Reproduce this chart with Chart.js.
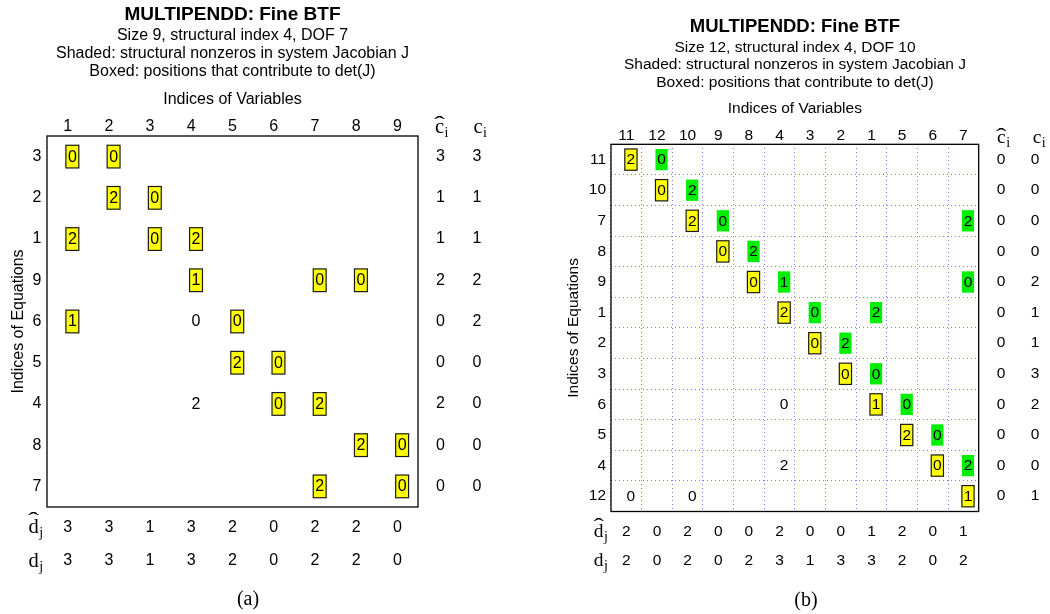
<!DOCTYPE html>
<html lang="en">
<head>
<meta charset="UTF-8">
<title>MULTIPENDD: Fine BTF</title>
<script src="https://cdn.jsdelivr.net/npm/chart.js"></script>
<style>
  body { margin: 0; background: #fff; }
  #wrap { position: relative; width: 1050px; height: 614px; overflow: hidden; }
  .box { position: absolute; top: 0; height: 614px; }
  #boxA { left: 0; width: 525px; }
  #boxB { left: 530px; width: 520px; }
  .cap {
    position: absolute;
    font-family: "Liberation Serif", "Times New Roman", serif;
    font-size: 20px;
    transform: translate(-50%, -50%);
  }
</style>
</head>
<body>
<div id="wrap">
  <div class="box" id="boxA"><canvas id="chartA"></canvas></div>
  <div class="box" id="boxB"><canvas id="chartB"></canvas></div>
  <div class="cap" style="left:248px; top:598px">(a)</div>
  <div class="cap" style="left:806px; top:599px">(b)</div>
</div>

<script>
// ---------- (a) size 9 ----------
const colsA = ['1', '2', '3', '4', '5', '6', '7', '8', '9'];
const rowsA = ['3', '2', '1', '9', '6', '5', '4', '8', '7'];
const chatA = [3, 1, 1, 2, 0, 0, 2, 0, 0];
const cA    = [3, 1, 1, 2, 2, 0, 0, 0, 0];
const dhatA = [3, 3, 1, 3, 2, 0, 2, 2, 0];
const dA    = [3, 3, 1, 3, 2, 0, 2, 2, 0];
// [row position, column position, value]
const boxedA = [
  [1, 1, 0], [1, 2, 0],
  [2, 2, 2], [2, 3, 0],
  [3, 1, 2], [3, 3, 0], [3, 4, 2],
  [4, 4, 1], [4, 7, 0], [4, 8, 0],
  [5, 1, 1], [5, 5, 0],
  [6, 5, 2], [6, 6, 0],
  [7, 6, 0], [7, 7, 2],
  [8, 8, 2], [8, 9, 0],
  [9, 7, 2], [9, 9, 0]
];
const plainA = [[5, 4, 0], [7, 4, 2]];

// ---------- (b) size 12 ----------
const colsB = ['11', '12', '10', '9', '8', '4', '3', '2', '1', '5', '6', '7'];
const rowsB = ['11', '10', '7', '8', '9', '1', '2', '3', '6', '5', '4', '12'];
const chatB = [0, 0, 0, 0, 0, 0, 0, 0, 0, 0, 0, 0];
const cB    = [0, 0, 0, 0, 2, 1, 1, 3, 2, 0, 0, 1];
const dhatB = [2, 0, 2, 0, 0, 2, 0, 0, 1, 2, 0, 1];
const dB    = [2, 0, 2, 0, 2, 3, 1, 3, 3, 2, 0, 2];
const boxedB = [
  [1, 1, 2], [2, 2, 0], [3, 3, 2], [4, 4, 0], [5, 5, 0], [6, 6, 2],
  [7, 7, 0], [8, 8, 0], [9, 9, 1], [10, 10, 2], [11, 11, 0], [12, 12, 1]
];
const shadedB = [
  [1, 2, 0], [2, 3, 2], [3, 4, 0], [3, 12, 2], [4, 5, 2], [5, 6, 1],
  [5, 12, 0], [6, 7, 0], [6, 9, 2], [7, 8, 2], [8, 9, 0], [9, 10, 0],
  [10, 11, 0], [11, 12, 2]
];
const plainB = [[9, 6, 0], [11, 6, 2], [12, 1, 0], [12, 3, 0]];

const SANS = '"Liberation Sans", Arial, sans-serif';
const SERIF = '"Liberation Serif", "Times New Roman", serif';

function pts(list) {
  return list.map(p => ({ x: p[1], y: p[0], v: p[2] }));
}

// letter with optional hat and a subscript, x = centre of the letter
function sym(ctx, base, sub, hat, x, y, size, lift) {
  ctx.font = size + 'px ' + SERIF;
  ctx.textAlign = 'center';
  ctx.textBaseline = 'alphabetic';
  const bw = ctx.measureText(base).width;
  ctx.fillText(base, x, y);
  if (hat) {
    ctx.save();
    ctx.translate(x, y - lift);
    ctx.scale(1.6, 1);
    ctx.fillText('\u02C6', 0, 0);
    ctx.restore();
  }
  ctx.font = Math.round(size * 0.7) + 'px ' + SERIF;
  ctx.textAlign = 'left';
  ctx.fillText(sub, x + bw / 2 + 0.5, y + size * 0.2);
}

const btfPlugin = {
  id: 'btf',
  afterDatasetsDraw(chart, args, o) {
    const ctx = chart.ctx, a = chart.chartArea;
    const xs = chart.scales.x, ys = chart.scales.y;
    ctx.save();

    // cells
    ctx.font = o.fs + 'px ' + SANS;
    ctx.textBaseline = 'middle';
    ctx.textAlign = 'left';
    chart.data.datasets.forEach((ds, i) => {
      const meta = chart.getDatasetMeta(i);
      meta.data.forEach((el, j) => {
        const txt = String(ds.data[j].v);
        const w = ctx.measureText(txt).width;
        const x0 = el.x - o.cellLeft, bw = w + 2 * o.cellPad, bh = o.cellH;
        const y0 = el.y - bh / 2;
        if (ds.cellFill) {
          ctx.fillStyle = ds.cellFill;
          ctx.fillRect(x0, y0, bw, bh);
        }
        if (ds.cellBorder) {
          ctx.strokeStyle = ds.cellBorder;
          ctx.lineWidth = 1.2;
          ctx.strokeRect(x0, y0, bw, bh);
        }
        ctx.fillStyle = '#000';
        ctx.fillText(txt, x0 + o.cellPad, el.y + 0.5);
      });
    });

    // frame
    ctx.strokeStyle = '#000';
    ctx.lineWidth = 1.3;
    ctx.strokeRect(a.left, a.top, a.right - a.left, a.bottom - a.top);

    // side columns and bottom rows
    ctx.fillStyle = '#000';
    ctx.font = o.fs + 'px ' + SANS;
    ctx.textAlign = 'center';
    ctx.textBaseline = 'middle';
    o.chat.forEach((v, i) => ctx.fillText(v, a.right + o.cx1, ys.getPixelForValue(i + 1)));
    o.c.forEach((v, i) => ctx.fillText(v, a.right + o.cx2, ys.getPixelForValue(i + 1)));
    o.dhat.forEach((v, j) => ctx.fillText(v, xs.getPixelForValue(j + 1), a.bottom + o.dy1));
    o.d.forEach((v, j) => ctx.fillText(v, xs.getPixelForValue(j + 1), a.bottom + o.dy2));

    sym(ctx, 'c', 'i', true, a.right + o.hx1, a.top + o.hy, o.ss, 2);
    sym(ctx, 'c', 'i', false, a.right + o.hx2, a.top + o.hy, o.ss, 2);
    sym(ctx, 'd', 'j', true, a.left + o.lx, a.bottom + o.dy1 + 5.5, o.ss, 6);
    sym(ctx, 'd', 'j', false, a.left + o.lx, a.bottom + o.dy2 + 5.5, o.ss, 6);
    ctx.restore();
  }
};

function makeScales(cols, rows, o) {
  return {
    x: {
      type: 'linear', position: 'top', bounds: 'data',
      min: 0.5, max: cols.length + 0.5,
      afterBuildTicks: s => { s.ticks = cols.map((_, i) => ({ value: i + 1 })); },
      afterFit: s => { s.height = o.topH; },
      ticks: {
        autoSkip: false, maxRotation: 0, minRotation: 0, padding: 0, color: '#000',
        font: { family: SANS, size: o.fs, lineHeight: o.tickLH },
        callback: v => cols[Math.round(v) - 1]
      },
      grid: { display: o.grid, offset: true, drawTicks: false, color: '#7b7bff', lineWidth: 1 },
      border: { display: false, dash: [1, 3] },
      title: {
        display: true, text: 'Indices of Variables', color: '#000',
        font: { family: SANS, size: o.fs, lineHeight: 1.2 },
        padding: { top: o.xTitlePad, bottom: 0 }
      }
    },
    y: {
      type: 'linear', position: 'left', reverse: true, bounds: 'data',
      min: 0.5, max: rows.length + 0.5,
      afterBuildTicks: s => { s.ticks = rows.map((_, i) => ({ value: i + 1 })); },
      afterFit: s => { s.width = o.leftW; },
      ticks: {
        autoSkip: false, padding: o.yTickPad, color: '#000',
        font: { family: SANS, size: o.fs },
        callback: v => rows[Math.round(v) - 1]
      },
      grid: { display: o.grid, offset: true, drawTicks: false, color: '#7b7bff', lineWidth: 1 },
      border: { display: false, dash: [1, 3] },
      title: {
        display: true, text: 'Indices of Equations', color: '#000',
        font: { family: SANS, size: o.fs, lineHeight: 1.2 },
        padding: { top: o.yTitlePad, bottom: 0 }
      }
    },
    yr: {
      type: 'linear', position: 'right', display: true,
      ticks: { display: false }, grid: { display: false }, border: { display: false },
      afterFit: s => { s.width = o.rightW; }
    }
  };
}

function makeChart(id, cfg) {
  return new Chart(document.getElementById(id), {
    type: 'scatter',
    data: { datasets: cfg.datasets },
    options: {
      responsive: true,
      maintainAspectRatio: false,
      animation: false,
      events: [],
      layout: { padding: cfg.padding },
      plugins: {
        legend: { display: false },
        tooltip: { enabled: false },
        title: {
          display: true, text: 'MULTIPENDD: Fine BTF', color: '#000',
          font: { family: SANS, size: cfg.titleSize, weight: 'bold', lineHeight: 1.2 },
          padding: { top: cfg.titlePad, bottom: 0 }
        },
        subtitle: {
          display: true, text: cfg.subtitle, color: '#000',
          font: { family: SANS, size: cfg.subSize, lineHeight: cfg.subLH },
          padding: { top: cfg.subPad, bottom: 0 }
        },
        btf: cfg.btf
      },
      scales: makeScales(cfg.cols, cfg.rows, cfg.axes)
    },
    plugins: [btfPlugin]
  });
}

makeChart('chartA', {
  cols: colsA, rows: rowsA,
  datasets: [
    { data: pts(boxedA), cellFill: '#ffff00', cellBorder: '#1a1a1a', pointRadius: 0, xAxisID: 'x', yAxisID: 'y' },
    { data: pts(plainA), cellFill: null, cellBorder: null, pointRadius: 0, xAxisID: 'x', yAxisID: 'y' }
  ],
  padding: { top: 0, left: 0, right: 60, bottom: 107 },
  titleSize: 19, titlePad: 3,
  subtitle: [
    'Size 9, structural index 4, DOF 7',
    'Shaded: structural nonzeros in system Jacobian J',
    'Boxed: positions that contribute to det(J)'
  ],
  subSize: 16, subLH: 1.125, subPad: 1,
  axes: { fs: 16, tickLH: 1.2, topH: 55.2, xTitlePad: 9.6, leftW: 47, yTickPad: 5.5, yTitlePad: 9.1, rightW: 47, grid: false },
  btf: {
    fs: 16, cellLeft: 1.7, cellPad: 2, cellH: 22.7,
    chat: chatA, c: cA, dhat: dhatA, d: dA,
    cx1: 22.5, cx2: 59, dy1: 20.7, dy2: 54,
    hx1: 21.5, hx2: 60, hy: -3, lx: -13.5, ss: 20.5
  }
});

makeChart('chartB', {
  cols: colsB, rows: rowsB,
  datasets: [
    { data: pts(boxedB), cellFill: '#ffff00', cellBorder: '#1a1a1a', pointRadius: 0, xAxisID: 'x', yAxisID: 'y' },
    { data: pts(shadedB), cellFill: '#00ee00', cellBorder: null, pointRadius: 0, xAxisID: 'x', yAxisID: 'y' },
    { data: pts(plainB), cellFill: null, cellBorder: null, pointRadius: 0, xAxisID: 'x', yAxisID: 'y' }
  ],
  padding: { top: 0, left: 10, right: 0, bottom: 102.5 },
  titleSize: 18.5, titlePad: 15.9,
  subtitle: [
    'Size 12, structural index 4, DOF 10',
    'Shaded: structural nonzeros in system Jacobian J',
    'Boxed: positions that contribute to det(J)'
  ],
  subSize: 15.5, subLH: 1.11, subPad: 1.3,
  axes: { fs: 15.5, tickLH: 1.1, topH: 53.3, xTitlePad: 8.7, leftW: 71, yTickPad: 5, yTitlePad: 24.7, rightW: 71.3, grid: true },
  btf: {
    fs: 15.5, cellLeft: 1.5, cellPad: 1.8, cellH: 21.3,
    chat: chatB, c: cB, dhat: dhatB, d: dB,
    cx1: 22.3, cx2: 56.3, dy1: 20.2, dy2: 49.2,
    hx1: 22.6, hx2: 58.3, hy: -1.6, lx: -12.3, ss: 19.5
  }
});
</script>
</body>
</html>
